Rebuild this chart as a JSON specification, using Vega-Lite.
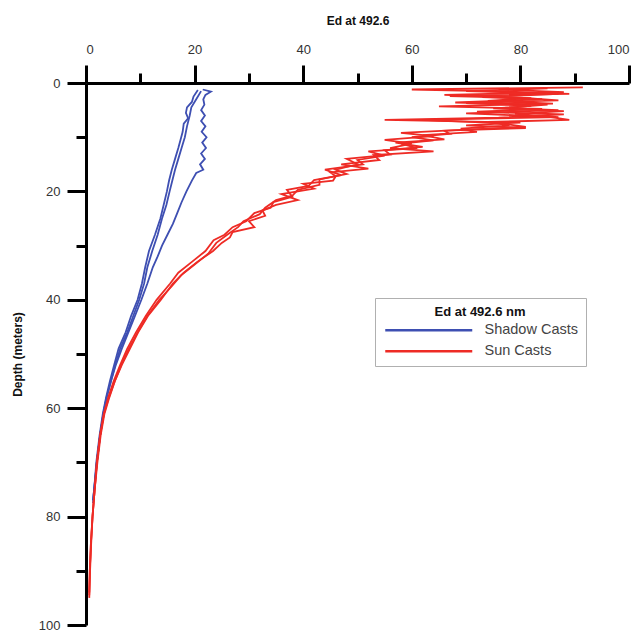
{
"$schema": "https://vega.github.io/schema/vega-lite/v6.json",
"width": 543, "height": 542,
"autosize": {"type": "none"},
"padding": {"left": 86, "top": 83, "right": 12, "bottom": 7},
"config": {"view": {"stroke": null}, "font": "Liberation Sans",
 "axis": {"grid": false, "domainColor": "#000", "domainWidth": 3, "tickColor": "#000", "tickWidth": 3, "labelColor": "#333", "labelFont": "Liberation Sans", "labelFontSize": 13, "titleFont": "Liberation Sans", "titleFontSize": 12, "titleFontWeight": "bold", "titleColor": "#111"}},
"data": {"values": [
{"t":"Shadow Casts","c":"B1","d":1.3,"e":20.6},{"t":"Shadow Casts","c":"B1","d":2.5,"e":19.8},{"t":"Shadow Casts","c":"B1","d":3.5,"e":19.5},{"t":"Shadow Casts","c":"B1","d":4.5,"e":18.6},{"t":"Shadow Casts","c":"B1","d":5.5,"e":18.4},{"t":"Shadow Casts","c":"B1","d":6.5,"e":18.8},{"t":"Shadow Casts","c":"B1","d":7.5,"e":18.0},{"t":"Shadow Casts","c":"B1","d":9,"e":17.8},{"t":"Shadow Casts","c":"B1","d":10.5,"e":17.4},{"t":"Shadow Casts","c":"B1","d":12,"e":17.0},{"t":"Shadow Casts","c":"B1","d":14,"e":16.4},{"t":"Shadow Casts","c":"B1","d":16,"e":15.8},{"t":"Shadow Casts","c":"B1","d":18,"e":15.3},{"t":"Shadow Casts","c":"B1","d":20,"e":14.9},{"t":"Shadow Casts","c":"B1","d":22.5,"e":14.3},{"t":"Shadow Casts","c":"B1","d":25,"e":13.7},{"t":"Shadow Casts","c":"B1","d":28,"e":12.7},{"t":"Shadow Casts","c":"B1","d":31,"e":11.6},{"t":"Shadow Casts","c":"B1","d":34,"e":10.9},{"t":"Shadow Casts","c":"B1","d":37,"e":10.3},{"t":"Shadow Casts","c":"B1","d":40,"e":9.5},{"t":"Shadow Casts","c":"B1","d":43,"e":8.3},{"t":"Shadow Casts","c":"B1","d":46,"e":7.3},{"t":"Shadow Casts","c":"B1","d":49,"e":6.0},{"t":"Shadow Casts","c":"B1","d":52,"e":5.2},{"t":"Shadow Casts","c":"B1","d":55,"e":4.4},{"t":"Shadow Casts","c":"B1","d":58,"e":3.7},{"t":"Shadow Casts","c":"B1","d":61,"e":3.1},{"t":"Shadow Casts","c":"B1","d":65,"e":2.5},{"t":"Shadow Casts","c":"B1","d":70,"e":1.9},{"t":"Shadow Casts","c":"B1","d":75,"e":1.5},{"t":"Shadow Casts","c":"B1","d":77.5,"e":1.3},
{"t":"Shadow Casts","c":"B2","d":1.5,"e":21.2},{"t":"Shadow Casts","c":"B2","d":3,"e":20.3},{"t":"Shadow Casts","c":"B2","d":4.5,"e":19.4},{"t":"Shadow Casts","c":"B2","d":6,"e":19.1},{"t":"Shadow Casts","c":"B2","d":8,"e":18.6},{"t":"Shadow Casts","c":"B2","d":10,"e":18.2},{"t":"Shadow Casts","c":"B2","d":12,"e":17.6},{"t":"Shadow Casts","c":"B2","d":14,"e":17.0},{"t":"Shadow Casts","c":"B2","d":16,"e":16.4},{"t":"Shadow Casts","c":"B2","d":18,"e":15.9},{"t":"Shadow Casts","c":"B2","d":20,"e":15.4},{"t":"Shadow Casts","c":"B2","d":22.5,"e":14.8},{"t":"Shadow Casts","c":"B2","d":25,"e":14.0},{"t":"Shadow Casts","c":"B2","d":28,"e":13.2},{"t":"Shadow Casts","c":"B2","d":31,"e":12.2},{"t":"Shadow Casts","c":"B2","d":34,"e":11.3},{"t":"Shadow Casts","c":"B2","d":37,"e":10.7},{"t":"Shadow Casts","c":"B2","d":40,"e":9.8},{"t":"Shadow Casts","c":"B2","d":43,"e":8.7},{"t":"Shadow Casts","c":"B2","d":46,"e":7.6},{"t":"Shadow Casts","c":"B2","d":49,"e":6.3},{"t":"Shadow Casts","c":"B2","d":52,"e":5.4},{"t":"Shadow Casts","c":"B2","d":55,"e":4.6},{"t":"Shadow Casts","c":"B2","d":58,"e":3.8},{"t":"Shadow Casts","c":"B2","d":61,"e":3.2},{"t":"Shadow Casts","c":"B2","d":65,"e":2.6},{"t":"Shadow Casts","c":"B2","d":70,"e":2.0},{"t":"Shadow Casts","c":"B2","d":75,"e":1.5},{"t":"Shadow Casts","c":"B2","d":77,"e":1.3},
{"t":"Shadow Casts","c":"B3","d":1.2,"e":21.5},{"t":"Shadow Casts","c":"B3","d":1.6,"e":23.0},{"t":"Shadow Casts","c":"B3","d":2.2,"e":22.0},{"t":"Shadow Casts","c":"B3","d":3,"e":21.6},{"t":"Shadow Casts","c":"B3","d":4,"e":21.8},{"t":"Shadow Casts","c":"B3","d":5,"e":21.2},{"t":"Shadow Casts","c":"B3","d":6,"e":21.9},{"t":"Shadow Casts","c":"B3","d":7,"e":21.2},{"t":"Shadow Casts","c":"B3","d":8,"e":22.0},{"t":"Shadow Casts","c":"B3","d":9,"e":21.3},{"t":"Shadow Casts","c":"B3","d":10,"e":22.2},{"t":"Shadow Casts","c":"B3","d":11,"e":21.4},{"t":"Shadow Casts","c":"B3","d":12,"e":22.1},{"t":"Shadow Casts","c":"B3","d":13,"e":21.2},{"t":"Shadow Casts","c":"B3","d":14,"e":21.9},{"t":"Shadow Casts","c":"B3","d":15,"e":21.0},{"t":"Shadow Casts","c":"B3","d":16,"e":21.6},{"t":"Shadow Casts","c":"B3","d":16.6,"e":20.3},{"t":"Shadow Casts","c":"B3","d":18,"e":19.5},{"t":"Shadow Casts","c":"B3","d":20,"e":18.5},{"t":"Shadow Casts","c":"B3","d":22,"e":17.6},{"t":"Shadow Casts","c":"B3","d":24,"e":16.8},{"t":"Shadow Casts","c":"B3","d":26,"e":16.0},{"t":"Shadow Casts","c":"B3","d":28,"e":15.0},{"t":"Shadow Casts","c":"B3","d":30,"e":14.0},{"t":"Shadow Casts","c":"B3","d":32,"e":13.2},{"t":"Shadow Casts","c":"B3","d":34,"e":12.3},{"t":"Shadow Casts","c":"B3","d":37,"e":11.3},{"t":"Shadow Casts","c":"B3","d":40,"e":10.2},{"t":"Shadow Casts","c":"B3","d":43,"e":9.0},{"t":"Shadow Casts","c":"B3","d":46,"e":7.8},{"t":"Shadow Casts","c":"B3","d":49,"e":6.6},{"t":"Shadow Casts","c":"B3","d":52,"e":5.5},{"t":"Shadow Casts","c":"B3","d":55,"e":4.6},{"t":"Shadow Casts","c":"B3","d":58,"e":3.8},{"t":"Shadow Casts","c":"B3","d":61,"e":3.2},{"t":"Shadow Casts","c":"B3","d":65,"e":2.6},{"t":"Shadow Casts","c":"B3","d":70,"e":2.0},{"t":"Shadow Casts","c":"B3","d":75,"e":1.5},{"t":"Shadow Casts","c":"B3","d":77,"e":1.3},
{"t":"Sun Casts","c":"R1","d":0.8,"e":91.5},{"t":"Sun Casts","c":"R1","d":1.2,"e":60},{"t":"Sun Casts","c":"R1","d":1.6,"e":78},{"t":"Sun Casts","c":"R1","d":2.0,"e":89},{"t":"Sun Casts","c":"R1","d":2.4,"e":67},{"t":"Sun Casts","c":"R1","d":2.8,"e":82},{"t":"Sun Casts","c":"R1","d":3.3,"e":74},{"t":"Sun Casts","c":"R1","d":3.8,"e":86},{"t":"Sun Casts","c":"R1","d":4.3,"e":65},{"t":"Sun Casts","c":"R1","d":4.8,"e":84},{"t":"Sun Casts","c":"R1","d":5.3,"e":72},{"t":"Sun Casts","c":"R1","d":5.8,"e":88},{"t":"Sun Casts","c":"R1","d":6.4,"e":76},{"t":"Sun Casts","c":"R1","d":6.8,"e":55},{"t":"Sun Casts","c":"R1","d":7.3,"e":80},{"t":"Sun Casts","c":"R1","d":7.8,"e":70},{"t":"Sun Casts","c":"R1","d":8.3,"e":81},{"t":"Sun Casts","c":"R1","d":8.8,"e":66},{"t":"Sun Casts","c":"R1","d":9.4,"e":67},{"t":"Sun Casts","c":"R1","d":10,"e":60},{"t":"Sun Casts","c":"R1","d":10.6,"e":64},{"t":"Sun Casts","c":"R1","d":11.2,"e":58},{"t":"Sun Casts","c":"R1","d":12,"e":61},{"t":"Sun Casts","c":"R1","d":12.6,"e":52},{"t":"Sun Casts","c":"R1","d":13.4,"e":55},{"t":"Sun Casts","c":"R1","d":14.2,"e":50},{"t":"Sun Casts","c":"R1","d":15,"e":51},{"t":"Sun Casts","c":"R1","d":16,"e":44},{"t":"Sun Casts","c":"R1","d":17,"e":47},{"t":"Sun Casts","c":"R1","d":17.9,"e":42},{"t":"Sun Casts","c":"R1","d":19,"e":41},{"t":"Sun Casts","c":"R1","d":19.7,"e":37},{"t":"Sun Casts","c":"R1","d":21,"e":38},{"t":"Sun Casts","c":"R1","d":22,"e":34.5},{"t":"Sun Casts","c":"R1","d":23,"e":34},{"t":"Sun Casts","c":"R1","d":24,"e":31},{"t":"Sun Casts","c":"R1","d":25.5,"e":29.5},{"t":"Sun Casts","c":"R1","d":26.6,"e":27},{"t":"Sun Casts","c":"R1","d":28,"e":25.5},{"t":"Sun Casts","c":"R1","d":29,"e":23.5},{"t":"Sun Casts","c":"R1","d":31,"e":22},{"t":"Sun Casts","c":"R1","d":33,"e":19.5},{"t":"Sun Casts","c":"R1","d":35,"e":17},{"t":"Sun Casts","c":"R1","d":37,"e":15.5},{"t":"Sun Casts","c":"R1","d":40,"e":13},{"t":"Sun Casts","c":"R1","d":43,"e":11},{"t":"Sun Casts","c":"R1","d":46,"e":9.2},{"t":"Sun Casts","c":"R1","d":49,"e":7.6},{"t":"Sun Casts","c":"R1","d":52,"e":6.3},{"t":"Sun Casts","c":"R1","d":55,"e":5.1},{"t":"Sun Casts","c":"R1","d":58,"e":4.1},{"t":"Sun Casts","c":"R1","d":61,"e":3.3},{"t":"Sun Casts","c":"R1","d":65,"e":2.6},{"t":"Sun Casts","c":"R1","d":70,"e":2.0},{"t":"Sun Casts","c":"R1","d":75,"e":1.6},{"t":"Sun Casts","c":"R1","d":80,"e":1.2},{"t":"Sun Casts","c":"R1","d":85,"e":0.9},{"t":"Sun Casts","c":"R1","d":90,"e":0.7},{"t":"Sun Casts","c":"R1","d":94.5,"e":0.6},
{"t":"Sun Casts","c":"R2","d":1.0,"e":85},{"t":"Sun Casts","c":"R2","d":1.5,"e":70},{"t":"Sun Casts","c":"R2","d":2.0,"e":87},{"t":"Sun Casts","c":"R2","d":2.6,"e":73},{"t":"Sun Casts","c":"R2","d":3.0,"e":84},{"t":"Sun Casts","c":"R2","d":3.6,"e":68},{"t":"Sun Casts","c":"R2","d":4.0,"e":85},{"t":"Sun Casts","c":"R2","d":4.6,"e":77},{"t":"Sun Casts","c":"R2","d":5.0,"e":87},{"t":"Sun Casts","c":"R2","d":5.6,"e":70},{"t":"Sun Casts","c":"R2","d":6.2,"e":85},{"t":"Sun Casts","c":"R2","d":6.8,"e":89},{"t":"Sun Casts","c":"R2","d":7.2,"e":74},{"t":"Sun Casts","c":"R2","d":7.8,"e":78},{"t":"Sun Casts","c":"R2","d":8.4,"e":69},{"t":"Sun Casts","c":"R2","d":9.0,"e":72},{"t":"Sun Casts","c":"R2","d":9.6,"e":62},{"t":"Sun Casts","c":"R2","d":10.4,"e":66},{"t":"Sun Casts","c":"R2","d":11.0,"e":57},{"t":"Sun Casts","c":"R2","d":11.8,"e":62},{"t":"Sun Casts","c":"R2","d":12.4,"e":55},{"t":"Sun Casts","c":"R2","d":13.2,"e":56},{"t":"Sun Casts","c":"R2","d":14.0,"e":48},{"t":"Sun Casts","c":"R2","d":15.0,"e":50},{"t":"Sun Casts","c":"R2","d":16.0,"e":46},{"t":"Sun Casts","c":"R2","d":16.8,"e":48},{"t":"Sun Casts","c":"R2","d":17.8,"e":43},{"t":"Sun Casts","c":"R2","d":18.8,"e":43},{"t":"Sun Casts","c":"R2","d":19.7,"e":39},{"t":"Sun Casts","c":"R2","d":20.8,"e":38},{"t":"Sun Casts","c":"R2","d":21.6,"e":35},{"t":"Sun Casts","c":"R2","d":23.0,"e":33},{"t":"Sun Casts","c":"R2","d":24.2,"e":32},{"t":"Sun Casts","c":"R2","d":25.5,"e":29},{"t":"Sun Casts","c":"R2","d":26.6,"e":28},{"t":"Sun Casts","c":"R2","d":28.0,"e":26},{"t":"Sun Casts","c":"R2","d":29.5,"e":24},{"t":"Sun Casts","c":"R2","d":31.5,"e":22.5},{"t":"Sun Casts","c":"R2","d":33.5,"e":20},{"t":"Sun Casts","c":"R2","d":35.5,"e":17.5},{"t":"Sun Casts","c":"R2","d":37.5,"e":15.8},{"t":"Sun Casts","c":"R2","d":40,"e":13.5},{"t":"Sun Casts","c":"R2","d":43,"e":11.3},{"t":"Sun Casts","c":"R2","d":46,"e":9.5},{"t":"Sun Casts","c":"R2","d":49,"e":7.9},{"t":"Sun Casts","c":"R2","d":52,"e":6.5},{"t":"Sun Casts","c":"R2","d":55,"e":5.3},{"t":"Sun Casts","c":"R2","d":58,"e":4.3},{"t":"Sun Casts","c":"R2","d":61,"e":3.4},{"t":"Sun Casts","c":"R2","d":65,"e":2.7},{"t":"Sun Casts","c":"R2","d":70,"e":2.1},{"t":"Sun Casts","c":"R2","d":75,"e":1.6},{"t":"Sun Casts","c":"R2","d":80,"e":1.2},{"t":"Sun Casts","c":"R2","d":85,"e":0.95},{"t":"Sun Casts","c":"R2","d":90,"e":0.75},{"t":"Sun Casts","c":"R2","d":95,"e":0.6},
{"t":"Sun Casts","c":"R3","d":1.2,"e":76},{"t":"Sun Casts","c":"R3","d":1.7,"e":88},{"t":"Sun Casts","c":"R3","d":2.2,"e":66},{"t":"Sun Casts","c":"R3","d":2.7,"e":80},{"t":"Sun Casts","c":"R3","d":3.2,"e":87},{"t":"Sun Casts","c":"R3","d":3.7,"e":70},{"t":"Sun Casts","c":"R3","d":4.2,"e":82},{"t":"Sun Casts","c":"R3","d":4.7,"e":75},{"t":"Sun Casts","c":"R3","d":5.2,"e":88},{"t":"Sun Casts","c":"R3","d":5.7,"e":79},{"t":"Sun Casts","c":"R3","d":6.3,"e":87},{"t":"Sun Casts","c":"R3","d":6.8,"e":62},{"t":"Sun Casts","c":"R3","d":7.4,"e":76},{"t":"Sun Casts","c":"R3","d":8.1,"e":81},{"t":"Sun Casts","c":"R3","d":8.6,"e":70},{"t":"Sun Casts","c":"R3","d":9.2,"e":58},{"t":"Sun Casts","c":"R3","d":9.8,"e":64},{"t":"Sun Casts","c":"R3","d":10.5,"e":55},{"t":"Sun Casts","c":"R3","d":11.2,"e":60},{"t":"Sun Casts","c":"R3","d":12.0,"e":56},{"t":"Sun Casts","c":"R3","d":12.6,"e":64},{"t":"Sun Casts","c":"R3","d":13.3,"e":53},{"t":"Sun Casts","c":"R3","d":14.2,"e":54},{"t":"Sun Casts","c":"R3","d":15.0,"e":47},{"t":"Sun Casts","c":"R3","d":15.8,"e":52},{"t":"Sun Casts","c":"R3","d":16.5,"e":45},{"t":"Sun Casts","c":"R3","d":17.2,"e":46},{"t":"Sun Casts","c":"R3","d":18.0,"e":45.5},{"t":"Sun Casts","c":"R3","d":18.6,"e":40},{"t":"Sun Casts","c":"R3","d":19.5,"e":42},{"t":"Sun Casts","c":"R3","d":20.5,"e":36},{"t":"Sun Casts","c":"R3","d":21.6,"e":39},{"t":"Sun Casts","c":"R3","d":22.5,"e":35},{"t":"Sun Casts","c":"R3","d":23.5,"e":32.5},{"t":"Sun Casts","c":"R3","d":24.5,"e":33},{"t":"Sun Casts","c":"R3","d":25.5,"e":30},{"t":"Sun Casts","c":"R3","d":26.6,"e":31},{"t":"Sun Casts","c":"R3","d":27.5,"e":27},{"t":"Sun Casts","c":"R3","d":28.5,"e":26.5},{"t":"Sun Casts","c":"R3","d":29.5,"e":25},{"t":"Sun Casts","c":"R3","d":31,"e":23.4},{"t":"Sun Casts","c":"R3","d":33,"e":20.5},{"t":"Sun Casts","c":"R3","d":35,"e":18},{"t":"Sun Casts","c":"R3","d":37,"e":16},{"t":"Sun Casts","c":"R3","d":40,"e":13.8},{"t":"Sun Casts","c":"R3","d":43,"e":11.4},{"t":"Sun Casts","c":"R3","d":46,"e":9.6},{"t":"Sun Casts","c":"R3","d":49,"e":8.1},{"t":"Sun Casts","c":"R3","d":52,"e":6.6},{"t":"Sun Casts","c":"R3","d":55,"e":5.3},{"t":"Sun Casts","c":"R3","d":58,"e":4.2},{"t":"Sun Casts","c":"R3","d":61,"e":3.3},{"t":"Sun Casts","c":"R3","d":65,"e":2.6},{"t":"Sun Casts","c":"R3","d":70,"e":2.0},{"t":"Sun Casts","c":"R3","d":75,"e":1.6},{"t":"Sun Casts","c":"R3","d":80,"e":1.2},{"t":"Sun Casts","c":"R3","d":85,"e":0.9},{"t":"Sun Casts","c":"R3","d":90,"e":0.7},{"t":"Sun Casts","c":"R3","d":94,"e":0.6}
]},
"layer": [
 {"mark": {"type": "point", "opacity": 0},
  "encoding": {
   "x": {"field": "e", "type": "quantitative", "scale": {"domain": [0, 100], "nice": false, "zero": false},
     "axis": {"orient": "top", "values": [10, 30, 50, 70, 90], "tickSize": 10, "labels": false, "domain": false, "title": null}},
   "y": {"field": "d", "type": "quantitative", "scale": {"domain": [0, 100], "nice": false, "reverse": true},
     "axis": {"orient": "left", "values": [10, 30, 50, 70, 90], "tickSize": 10, "labels": false, "domain": false, "title": null}}
  }},
 {"mark": {"type": "line", "strokeWidth": 1.8, "interpolate": "linear"},
  "encoding": {
   "x": {"field": "e", "type": "quantitative",
     "axis": {"orient": "top", "values": [0, 20, 40, 60, 80, 100], "tickSize": 18, "labelPadding": 9, "title": "Ed at 492.6", "titlePadding": 16}},
   "y": {"field": "d", "type": "quantitative",
     "axis": {"orient": "left", "values": [0, 20, 40, 60, 80, 100], "tickSize": 19, "labelPadding": 7, "title": "Depth (meters)", "titlePadding": 14}},
   "detail": {"field": "c"},
   "order": {"field": "d"},
   "color": {"field": "t", "type": "nominal", "scale": {"domain": ["Shadow Casts", "Sun Casts"], "range": ["#3e4fb2", "#ee2b25"]},
     "legend": {"title": "Ed at 492.6 nm", "orient": "none", "legendX": 289, "legendY": 215, "direction": "vertical",
       "symbolType": "M-1,0H16.4", "symbolSize": 100, "symbolStrokeWidth": 2.5, "labelOffset": 87, "labelFontSize": 14.5, "labelColor": "#444", "labelFont": "Liberation Sans",
       "titleFont": "Liberation Sans", "titleFontSize": 13, "titleFontWeight": "bold", "titleColor": "#111", "titleAnchor": "middle", "titleAlign": "center", "titlePadding": 4,
       "strokeColor": "#b0b0b0", "fillColor": "#fff", "padding": 8, "rowPadding": 6}}
  }}
],
"resolve": {"axis": {"x": "independent", "y": "independent"}}
}
